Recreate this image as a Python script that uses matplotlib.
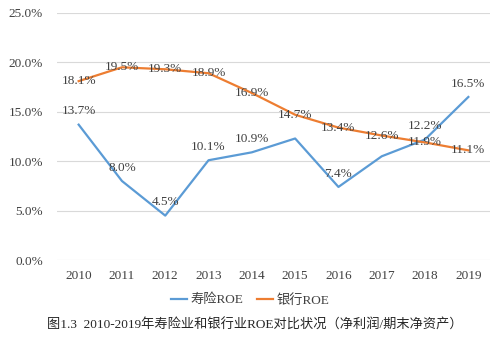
import numpy as np
import matplotlib
matplotlib.use("Agg")
import matplotlib.pyplot as plt

plt.rcParams['font.family'] = ['Liberation Serif', 'Noto Sans CJK SC', 'DejaVu Sans']

# data
years = ['2010', '2011', '2012', '2013', '2014', '2015', '2016', '2017', '2018', '2019']
life_roe = [13.7, 8.0, 4.5, 10.1, 10.9, 12.3, 7.4, 10.5, 12.2, 16.5]
bank_roe = [18.1, 19.5, 19.3, 18.9, 16.9, 14.7, 13.4, 12.6, 11.9, 11.1]
# which life points carry a label in the original
life_labelled = [True, True, True, True, True, False, True, False, True, True]
yticks = [0, 5, 10, 15, 20, 25]

blue = '#5B9BD5'
orange = '#ED7D31'
txt = '#404040'

fig = plt.figure(figsize=(5, 3.4), dpi=100)
ax = fig.add_axes([0.114, 0.235, 0.866, 0.727])

x = np.arange(len(years))
ax.plot(x, life_roe, color=blue, lw=1.6, label='寿险ROE', zorder=3)
ax.plot(x, bank_roe, color=orange, lw=1.6, label='银行ROE', zorder=3)

for i, v in enumerate(life_roe):
    if life_labelled[i]:
        ax.annotate('%.1f%%' % v, (x[i], v), xytext=(0, 9.5), textcoords='offset points',
                    ha='center', va='center', fontsize=9.5, color=txt, zorder=4)
for i, v in enumerate(bank_roe):
    ax.annotate('%.1f%%' % v, (x[i], v), ha='center', va='center',
                fontsize=9.5, color=txt, zorder=4)

ax.set_xlim(-0.5, len(years) - 0.5)
ax.set_ylim(0, 25)
ax.set_yticks(yticks)
ax.set_yticklabels(['%.1f%%' % t for t in yticks])
ax.set_xticks(x)
ax.set_xticklabels(years)
ax.grid(axis='y', color='#D9D9D9', lw=0.8)
ax.set_axisbelow(True)
for s in ['top', 'right', 'left', 'bottom']:
    ax.spines[s].set_visible(False)
ax.tick_params(length=0, labelsize=9.5, colors=txt)
ax.tick_params(axis='y', pad=10)
ax.tick_params(axis='x', pad=7)

fig.legend(loc='center', bbox_to_anchor=(0.5, 1 - 300 / 340), ncol=2, frameon=False,
           fontsize=9.5, handlelength=1.25, handletextpad=0.25, columnspacing=1.0,
           labelcolor=txt)

fig.text(0.51, 1 - 325 / 340, '图1.3  2010-2019年寿险业和银行业ROE对比状况（净利润/期末净资产）',
         ha='center', va='center', fontsize=9.5, color='#262626')

fig.savefig('out.png', dpi=100)
